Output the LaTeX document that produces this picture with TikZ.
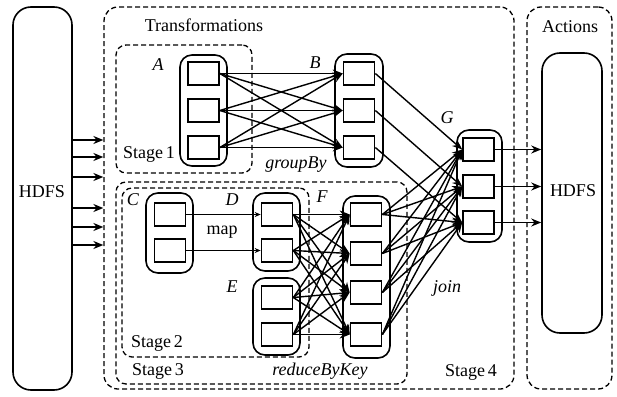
\documentclass[tikz,border=0pt]{standalone}
\usepackage{fontspec}
\setmainfont{Liberation Serif}
\usetikzlibrary{arrows.meta}
\begin{document}
\begin{tikzpicture}[x=1pt,y=-1pt,
  sq/.style={draw, line width=1.7pt, minimum width=31pt, minimum height=23pt, inner sep=0pt, fill=white},
  cont/.style={draw, line width=1.6pt, rounded corners=12pt, inner sep=0pt},
  dbox/.style={draw, dash pattern=on 5pt off 3pt, line width=1.3pt, rounded corners=14pt, inner sep=0pt},
  arr/.style={-{Stealth[length=10pt,width=8pt]}, line width=1.4pt},
  sarr/.style={-{Stealth[length=6pt,width=5pt]}, line width=1.1pt},
  lbl/.style={font=\fontsize{18}{21}\selectfont, inner sep=0pt},
  ilbl/.style={font=\fontsize{18}{21}\selectfont\itshape, inner sep=0pt}]
\useasboundingbox (0,0) rectangle (617,396);

% dashed regions
\node[dbox, minimum width=410pt, minimum height=382pt] (trans) at (309,198) {};
\node[dbox, minimum width=85pt, minimum height=382pt] (actions) at (569.5,198) {};
\node[dbox, rounded corners=10pt, minimum width=136pt, minimum height=128pt] (st1) at (184,109) {};
\node[dbox, rounded corners=10pt, minimum width=291pt, minimum height=202pt] (st3) at (261.5,283) {};
\node[dbox, rounded corners=10pt, minimum width=187pt, minimum height=169pt] (st2) at (215.5,272.5) {};

% HDFS stores
\node[cont, rounded corners=18pt, minimum width=59pt, minimum height=383pt] (hdfsL) at (42.5,198.5) {};
\node[cont, rounded corners=18pt, minimum width=60pt, minimum height=280pt] (hdfsR) at (572,193) {};
\node[lbl] (hdfsLt) at (42,192) {HDFS};
\node[lbl] (hdfsRt) at (573,191) {HDFS};

% containers
\node[cont, minimum width=47pt, minimum height=111pt] (A) at (203.5,110.5) {};
\node[cont, minimum width=48pt, minimum height=113pt] (B) at (359,110.5) {};
\node[cont, minimum width=45pt, minimum height=112pt] (G) at (479.5,186) {};
\node[cont, minimum width=47pt, minimum height=80pt] (C) at (169.5,233) {};
\node[cont, minimum width=47pt, minimum height=78pt] (D) at (276.5,232) {};
\node[cont, minimum width=47pt, minimum height=77pt] (E) at (276.5,316.5) {};
\node[cont, minimum width=47pt, minimum height=162pt] (F) at (366.5,277) {};

% partitions
\foreach \n/\y in {1/73.5,2/110.5,3/147.5} {
  \node[sq] (a\n) at (203.5,\y) {};
  \node[sq] (b\n) at (359,\y) {};
}
\foreach \n/\y in {1/149.5,2/186.5,3/222.5} \node[sq] (g\n) at (478.5,\y) {};
\node[sq] (c1) at (170,214.5) {};
\node[sq] (c2) at (170,250.5) {};
\node[sq] (d1) at (277,214.5) {};
\node[sq] (d2) at (277,250.5) {};
\node[sq] (e1) at (277,297.5) {};
\node[sq] (e2) at (277,334.5) {};
\foreach \n/\y in {1/214.5,2/253.5,3/292.5,4/334.5} \node[sq] (f\n) at (366,\y) {};

% labels
\node[lbl] (tTrans) at (204,25) {Transformations};
\node[lbl] (tAct) at (570,27) {Actions};
\node[ilbl] (lA) at (158,65) {A};
\node[ilbl] (lB) at (315,63) {B};
\node[ilbl] (lG) at (447,118) {G};
\node[ilbl] (lC) at (133,200) {C};
\node[ilbl] (lD) at (232,200) {D};
\node[ilbl] (lE) at (232,287) {E};
\node[ilbl] (lF) at (322,197) {F};
\node[lbl] (s1) at (149,154) {Stage\,1};
\node[lbl] (s2) at (157,343) {Stage\,2};
\node[lbl] (s3) at (158,371) {Stage\,3};
\node[lbl] (s4) at (471,372) {Stage\,4};
\node[ilbl] (gb) at (296,165) {groupBy};
\node[lbl] (mp) at (222,232) {map};
\node[ilbl] (rbk) at (320,371) {reduceByKey};
\node[ilbl] (jn) at (447,288) {join};

% HDFS -> Transformations
\foreach \y in {140,157,177,208,227,245}
  \draw[arr] (hdfsL.east |- 0,\y) -- (trans.west |- 0,\y);

% groupBy shuffle
\foreach \i in {1,2,3} \foreach \j in {1,2,3}
  \draw[arr] (a\i.east) -- (b\j.west);

% map
\draw[sarr] (c1.east) -- (d1.west);
\draw[sarr] (c2.east) -- (d2.west);

% reduceByKey shuffle
\foreach \s in {d1,d2,e1,e2} \foreach \t in {f1,f2,f3,f4}
  \draw[arr] (\s.east) -- (\t.west);

% join
\foreach \i in {1,2,3} \draw[arr] (b\i.east) -- (g\i.west);
\foreach \s in {f1,f2,f3,f4} \foreach \t in {g1,g2,g3}
  \draw[arr] (\s.east) -- (\t.west);

% actions
\foreach \i in {1,2,3} \draw[arr] (g\i.east) -- (hdfsR.west |- g\i.east);
\end{tikzpicture}
\end{document}
